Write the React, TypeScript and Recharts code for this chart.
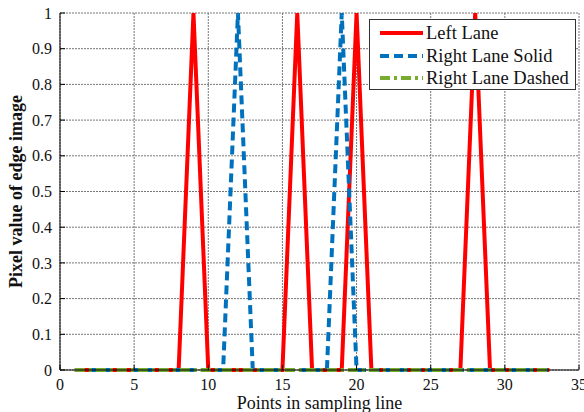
import React from 'react';
import { LineChart, Line, XAxis, YAxis, CartesianGrid, Label } from 'recharts';

const points = [1,2,3,4,5,6,7,8,9,10,11,12,13,14,15,16,17,18,19,20,21,22,23,24,25,26,27,28,29,30,31,32,33];
const leftLane = [0,0,0,0,0,0,0,0,1,0,0,0,0,0,0,1,0,0,0,1,0,0,0,0,0,0,0,1,0,0,0,0,0];
const rightSolid = [0,0,0,0,0,0,0,0,0,0,0,1,0,0,0,0,0,0,1,0,0,0,0,0,0,0,0,0,0,0,0,0,0];
const rightDashed = [0,0,0,0,0,0,0,0,0,0,0,0,0,0,0,0,0,0,0,0,0,0,0,0,0,0,0,0,0,0,0,0,0];
const xTicks = [0,5,10,15,20,25,30,35];
const yTicks = [0,0.1,0.2,0.3,0.4,0.5,0.6,0.7,0.8,0.9,1];

const data = points.map((p, i) => ({ x: p, left: leftLane[i], solid: rightSolid[i], dashed: rightDashed[i] }));

const FONT = '"Liberation Serif", "Times New Roman", serif';

const legendItems = [
  { name: 'Left Lane', color: '#ff0000', dash: undefined },
  { name: 'Right Lane Solid', color: '#0072bd', dash: '9 5' },
  { name: 'Right Lane Dashed', color: '#77ac30', dash: '10 4 3 4' },
];

const LegendBox = () => (
  <div style={{ position: 'absolute', left: 369, top: 19, width: 207, height: 71, border: '1px solid #333', background: '#fff', boxSizing: 'border-box', fontFamily: FONT, fontSize: 18.5, paddingTop: 2 }}>
    {legendItems.map((it) => (
      <div key={it.name} style={{ display: 'flex', alignItems: 'center', height: 22.5 }}>
        <svg width={56} height={10} style={{ display: 'block' }}>
          <line x1={10} y1={5} x2={53} y2={5} stroke={it.color} strokeWidth={4} strokeDasharray={it.dash} />
        </svg>
        <span style={{ color: '#111', lineHeight: '22px' }}>{it.name}</span>
      </div>
    ))}
  </div>
);

const tickStyle = { fill: '#111', fontFamily: FONT, fontSize: 16 };

export default function App() {
  return (
    <div style={{ position: 'absolute', left: 0, top: 0, width: 584, height: 412, background: '#fff' }}>
      <LineChart width={584} height={412} data={data} margin={{ top: 13, right: 5, bottom: 0, left: 0 }}>
        <CartesianGrid stroke="#777" strokeDasharray="2 1" />
        <XAxis dataKey="x" type="number" domain={[0, 35]} ticks={xTicks} height={42} tickSize={-5} tickLine={{ stroke: '#000' }}
          axisLine={{ stroke: '#000' }} tick={tickStyle} interval={0} tickMargin={14}>
          <Label value="Points in sampling line" position="insideBottom" offset={3} style={{ fill: '#111', fontFamily: FONT, fontSize: 18 }} />
        </XAxis>
        <XAxis xAxisId="top" orientation="top" dataKey="x" type="number" domain={[0, 35]} ticks={xTicks} height={0} tick={false} tickSize={-5} tickLine={{ stroke: '#000' }} axisLine={{ stroke: '#000' }} />
        <YAxis type="number" domain={[0, 1]} ticks={yTicks} width={60} tickSize={-5} tickLine={{ stroke: '#000' }}
          axisLine={{ stroke: '#000' }} tick={tickStyle} interval={0} tickMargin={13}>
          <Label value="Pixel value of edge image" angle={-90} position="insideLeft" offset={16} style={{ fill: '#111', fontFamily: FONT, fontSize: 18, fontWeight: 'bold', textAnchor: 'middle' }} />
        </YAxis>
        <YAxis yAxisId="right" orientation="right" type="number" domain={[0, 1]} ticks={yTicks} width={0} tick={false} tickSize={-5} tickLine={{ stroke: '#000' }} axisLine={{ stroke: '#000' }} />
        <Line dataKey="left" name="Left Lane" stroke="#ff0000" strokeWidth={4} dot={false} isAnimationActive={false} />
        <Line dataKey="solid" name="Right Lane Solid" stroke="#0072bd" strokeWidth={4} strokeDasharray="9 5" dot={false} isAnimationActive={false} />
        <Line dataKey="dashed" name="Right Lane Dashed" stroke="#77ac30" strokeWidth={4} strokeDasharray="10 4 3 4" dot={false} isAnimationActive={false} />
      </LineChart>
      <LegendBox />
    </div>
  );
}
